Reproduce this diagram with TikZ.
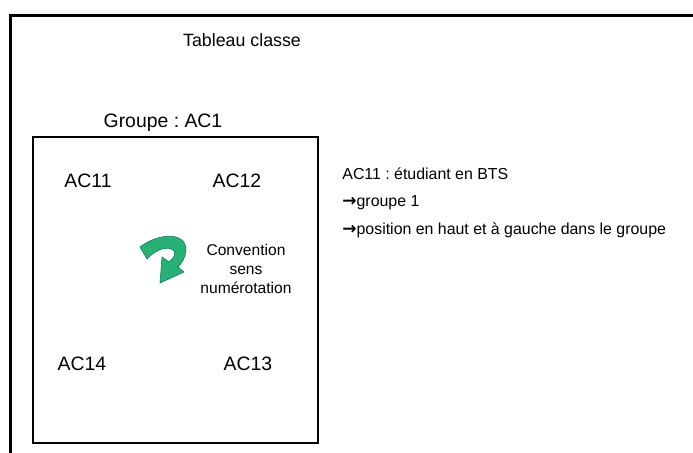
\documentclass[tikz,border=0pt]{standalone}
\usepackage{fontspec}
\setmainfont{Liberation Sans}
\newfontfamily\arrowfont{DejaVu Sans}
\usetikzlibrary{arrows.meta}
\definecolor{ConvGreen}{RGB}{38, 178, 118}
\definecolor{ConvGreenDark}{RGB}{10, 130, 85}
\frenchspacing

\tikzset{
    seat/.style={anchor=base, inner sep=0pt, font=\fontsize{9.7}{11}\selectfont},
    note/.style={anchor=base west, inner sep=0pt, font=\fontsize{7.95}{10}\selectfont}
}
\newcommand{\legendarrow}{{\arrowfont\bfseries\fontsize{8.5}{10}\selectfont →}}

\begin{document}
\begin{tikzpicture}[x=0.5pt, y=-0.5pt]

    % page area
    \useasboundingbox (0,0) rectangle (693,453);
    \draw[line width=1.5pt] (11,453) -- (11,16) -- (693,16);

    % --- title and group box ---
    \node[anchor=base, inner sep=0pt, font=\fontsize{8.9}{11}\selectfont] (tableau) at (242,47) {Tableau classe};
    \node[anchor=base, inner sep=0pt, font=\fontsize{9.7}{11}\selectfont] (groupe) at (163,128) {Groupe : AC1};
    \draw[line width=1.25pt] (33,137) rectangle (318,443);

    % seats
    \node[seat] (ac11) at (88,188) {AC11};
    \node[seat] (ac12) at (237,188) {AC12};
    \node[seat] (ac13) at (248,371) {AC13};
    \node[seat] (ac14) at (82,371) {AC14};

    % --- numbering direction ---
    \fill[ConvGreen, draw=ConvGreenDark, line width=0.3pt]
        (140,247) .. controls (158,233) and (187,231) .. (186,251)
        .. controls (185,258) and (182,263) .. (178,267)
        -- (184,272) -- (160,283) -- (162,257) -- (169,262)
        .. controls (174,258) and (176,254) .. (174,251)
        .. controls (169,245) and (156,249) .. (147,259) -- cycle;
    \node[align=center, inner sep=0pt, font=\fontsize{7.8}{9.3}\selectfont] (convention) at (246,269) {Convention\\sens\\numérotation};

    % --- legend ---
    \node[note] (legend1) at (342,180) {AC11 : étudiant en BTS};
    \node[note] (legend2) at (342,207) {\legendarrow groupe 1};
    \node[note] (legend3) at (342,235) {\legendarrow position en haut et à gauche dans le groupe};

\end{tikzpicture}
\end{document}
